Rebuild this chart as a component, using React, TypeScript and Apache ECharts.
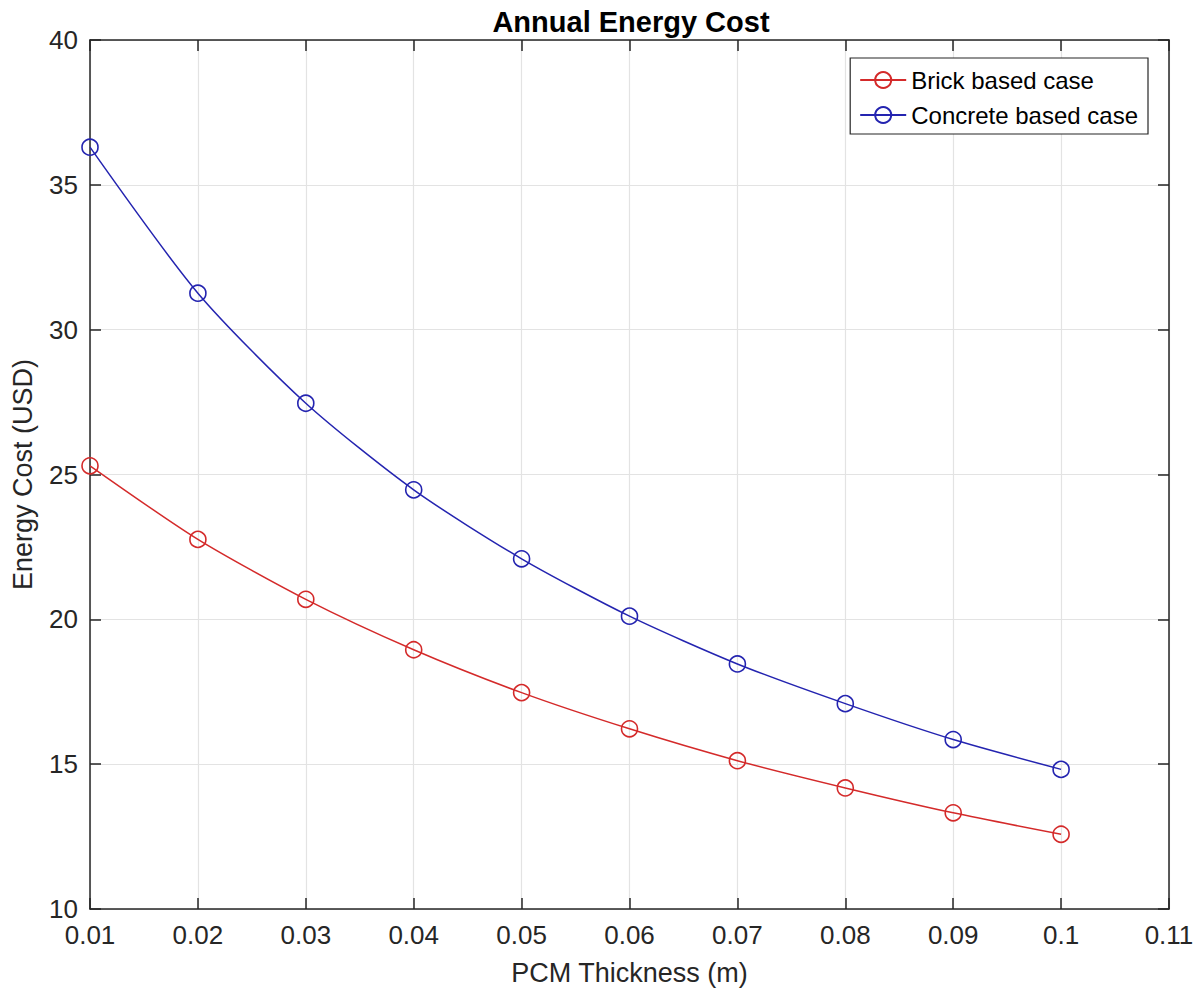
import React, { useEffect, useRef } from "react";
import * as echarts from "echarts";

const thickness = [0.01, 0.02, 0.03, 0.04, 0.05, 0.06, 0.07, 0.08, 0.09, 0.1];
const brickCost = [25.3, 22.76, 20.69, 18.95, 17.47, 16.22, 15.12, 14.18, 13.32, 12.58];
const concreteCost = [36.3, 31.26, 27.46, 24.47, 22.09, 20.11, 18.46, 17.09, 15.85, 14.82];
const seriesNames = ["Brick based case", "Concrete based case"];
const chartTitle = "Annual Energy Cost";
const xName = "PCM Thickness (m)";
const yName = "Energy Cost (USD)";

const FONT = "'Liberation Sans', Arial, Helvetica, sans-serif";
const DARK = "#262626";
const GRID = "#e3e3e3";
const RED = "#d42a2a";
const BLUE = "#2424b0";

export default function App() {
  const ref = useRef<HTMLDivElement>(null);
  useEffect(() => {
    if (!ref.current) return;
    const chart = echarts.init(ref.current, undefined, { renderer: "svg" });
    const pairs = (ys: number[]) => thickness.map((x, i) => [x, ys[i]]);
    const hiddenAxisCommon = {
      axisLine: { show: true, lineStyle: { color: DARK, width: 1.5 } },
      axisTick: { show: true, inside: true, length: 11, lineStyle: { color: DARK, width: 1.5 } },
      axisLabel: { show: false },
      splitLine: { show: false },
    };
    const mkSeries = (name: string, ys: number[], col: string) => ({
      name,
      type: "line",
      data: pairs(ys),
      smooth: 0.25,
      symbol: "circle",
      symbolSize: 16,
      color: col,
      lineStyle: { color: col, width: 1.5 },
      itemStyle: { color: "rgba(255,255,255,0)", borderColor: col, borderWidth: 1.6 },
    });
    chart.setOption({
      animation: false,
      backgroundColor: "#ffffff",
      title: {
        text: chartTitle,
        left: 631,
        top: 7,
        textAlign: "center",
        padding: 0,
        textStyle: { fontFamily: FONT, fontSize: 29, fontWeight: "bold", color: "#000" },
      },
      legend: {
        orient: "vertical",
        right: 53,
        top: 58,
        padding: [10, 10, 7, 9],
        itemWidth: 46,
        itemHeight: 20,
        itemGap: 11,
        backgroundColor: "#fff",
        borderColor: DARK,
        borderWidth: 1.2,
        textStyle: { fontFamily: FONT, fontSize: 24, color: "#000", lineHeight: 24 },
        data: seriesNames,
      },
      grid: { left: 90, top: 40, right: 32, bottom: 87, containLabel: false },
      xAxis: [
        {
          type: "value",
          min: 0.01,
          max: 0.11,
          interval: 0.01,
          name: xName,
          nameLocation: "middle",
          nameGap: 50,
          nameTextStyle: { fontFamily: FONT, fontSize: 27, color: DARK },
          axisLine: { show: true, onZero: false, lineStyle: { color: DARK, width: 1.5 } },
          axisTick: { show: true, inside: true, length: 11, lineStyle: { color: DARK, width: 1.5 } },
          axisLabel: { fontFamily: FONT, fontSize: 26, color: DARK, margin: 13 },
          splitLine: { show: true, lineStyle: { color: GRID, width: 1.2 } },
        },
        {
          type: "value",
          position: "top",
          min: 0.01,
          max: 0.11,
          interval: 0.01,
          ...hiddenAxisCommon,
        },
      ],
      yAxis: [
        {
          type: "value",
          min: 10,
          max: 40,
          interval: 5,
          name: yName,
          nameLocation: "middle",
          nameGap: 54,
          nameTextStyle: { fontFamily: FONT, fontSize: 27, color: DARK },
          axisLine: { show: true, onZero: false, lineStyle: { color: DARK, width: 1.5 } },
          axisTick: { show: true, inside: true, length: 11, lineStyle: { color: DARK, width: 1.5 } },
          axisLabel: { fontFamily: FONT, fontSize: 26, color: DARK, margin: 12 },
          splitLine: { show: true, lineStyle: { color: GRID, width: 1.2 } },
        },
        {
          type: "value",
          position: "right",
          min: 10,
          max: 40,
          interval: 5,
          ...hiddenAxisCommon,
        },
      ],
      series: [mkSeries(seriesNames[0], brickCost, RED), mkSeries(seriesNames[1], concreteCost, BLUE)],
    });
    return () => chart.dispose();
  }, []);
  return (
    <div
      ref={ref}
      style={{ position: "absolute", left: 0, top: 0, width: 1201, height: 996, background: "#fff" }}
    />
  );
}
